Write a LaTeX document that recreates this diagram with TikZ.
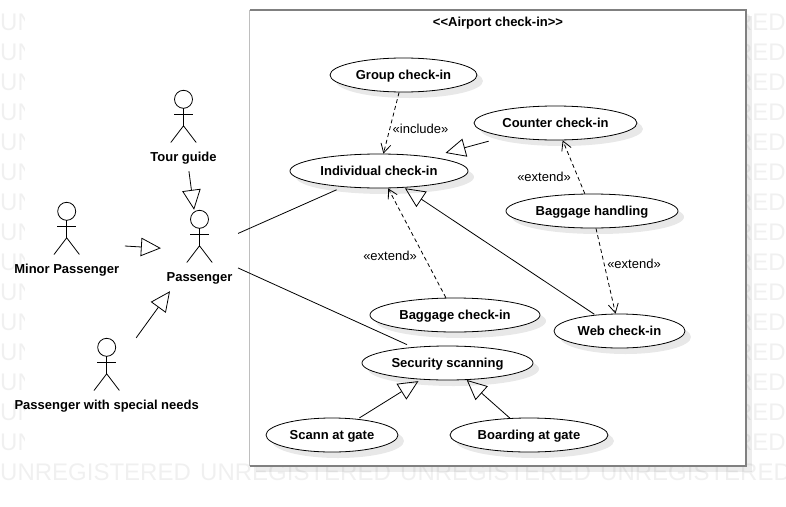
\documentclass[tikz,border=0pt]{standalone}
\usepackage{fontspec}
\setmainfont{Liberation Sans}
\usepackage{tikz}
\usetikzlibrary{arrows.meta,shapes.geometric,shadows}

\definecolor{framegray}{HTML}{808080}
\definecolor{frameleft}{HTML}{BEBEBE}
\definecolor{wmgray}{HTML}{F0F0F0}
\tikzset{
	usecase/.style={draw=black, fill=white, shape=ellipse, inner sep=0pt, line width=0.8pt, minimum height=34pt,
		text height=10pt, text depth=2pt,
		font=\fontsize{13}{15}\selectfont\bfseries,
		drop shadow={shadow xshift=6pt, shadow yshift=-6pt, fill=black, opacity=0.09}},
	actorbox/.style={shape=rectangle, inner xsep=5.5pt, inner ysep=5pt, text height=66pt, text depth=5pt,
		font=\fontsize{13}{15}\selectfont\bfseries},
	stereo/.style={font=\fontsize{13}{15}\selectfont, inner sep=1pt},
	watermark/.style={text=wmgray, inner sep=0pt, font=\fontsize{24}{26}\selectfont},
	general/.style={line width=0.8pt, -{Triangle[open, length=20pt, width=18.5pt]}},
	depend/.style={line width=0.8pt, dash pattern=on 4pt off 3pt, -{Straight Barb[length=9pt, width=10pt]}},
	assoc/.style={line width=0.8pt},
}

\begin{document}
\begin{tikzpicture}[x=1pt, y=-1pt]
	\useasboundingbox (0,0) rectangle (786,506);
	% watermark
	\foreach \y in {22,52,...,442} {
		\node [watermark, anchor=west] (waterl-\y) at (0, \y) {UN};
		\node [watermark, anchor=east] (waterr-\y) at (786, \y) {RED};
	}
	\foreach \x in {0,200,400,600} {
		\node [watermark, anchor=west] (water-\x) at (\x, 472) {UNREGISTERED};
	}
	\fill [white] (25, 0) rectangle (745, 460);

	% system frame
	\node [fill=white, minimum width=496pt, minimum height=456pt, inner sep=0pt,
		drop shadow={shadow xshift=6pt, shadow yshift=-6pt, fill=black, opacity=0.07}] (airport) at (498, 238) {};
	\draw [frameleft, line width=0.8pt] (airport.north west) -- (airport.south west);
	\draw [framegray, line width=2pt] (airport.north west) -- (airport.north east) -- (airport.south east) -- (airport.south west);
	\node [font=\fontsize{13}{15}\selectfont\bfseries, inner sep=0pt] (title) at (498, 23) {<{}<Airport check-in>{}>};

	% use cases
	\node [usecase, minimum width=147pt] (group) at (403.5, 75) {Group check-in};
	\node [usecase, minimum width=163pt] (counter) at (555.5, 123) {Counter check-in};
	\node [usecase, minimum width=178pt] (individual) at (379, 171) {Individual check-in};
	\node [usecase, minimum width=172pt] (handling) at (592, 211) {Baggage handling};
	\node [usecase, minimum width=170pt] (baggage) at (455, 315) {Baggage check-in};
	\node [usecase, minimum width=131pt] (web) at (619.5, 331) {Web check-in};
	\node [usecase, minimum width=171pt] (security) at (447.5, 363) {Security scanning};
	\node [usecase, minimum width=132pt] (scann) at (332, 435) {Scann at gate};
	\node [usecase, minimum width=158pt] (boarding) at (529, 435) {Boarding at gate};

	% actors
	\node [actorbox] (tour) at (183.5, 130.5) {Tour guide};
	\node [actorbox] (passenger) at (199.5, 250.5) {Passenger};
	\node [actorbox] (minor) at (66.7, 242.5) {Minor Passenger};
	\node [actorbox] (special) at (106.7, 378.5) {Passenger with special needs};
	\foreach \a in {tour,passenger,minor,special} {
		\draw [line width=0.8pt] ([yshift=-9.5pt]\a.north) circle [radius=9pt];
		\draw [line width=0.8pt] ([yshift=-18.5pt]\a.north) -- ([yshift=-36pt]\a.north);
		\draw [line width=0.8pt] ([xshift=-9.3pt, yshift=-24.7pt]\a.north) -- ([xshift=9.3pt, yshift=-24.7pt]\a.north);
		\draw [line width=0.8pt] ([xshift=-12.7pt, yshift=-52.7pt]\a.north) -- ([yshift=-36pt]\a.north) -- ([xshift=12.7pt, yshift=-52.7pt]\a.north);
	}

	% connectors
	\draw [general] (tour) to (passenger);
	\draw [general] (minor) to (passenger);
	\draw [general] (special) to (passenger);
	\draw [assoc, shorten >=7pt] (passenger) to (individual);
	\draw [assoc, shorten >=6pt] (passenger) to (security);
	\draw [depend] (group) to (individual);
	\draw [general, shorten <=17pt, shorten >=15pt] (counter) to (individual);
	\draw [depend] (handling) to (counter);
	\draw [depend] (handling) to (web);
	\draw [depend] (baggage) to (individual);
	\draw [general, shorten <=1pt, shorten >=1pt] (web) to (individual);
	\draw [general, shorten <=2pt, shorten >=3pt] (scann) to (security);
	\draw [general] (boarding) to (security);

	% stereotype labels
	\node [stereo] (includelabel) at (420.5, 129) {«include»};
	\node [stereo] (extendtop) at (544, 177) {«extend»};
	\node [stereo] (extendright) at (634, 264) {«extend»};
	\node [stereo] (extendleft) at (390, 256) {«extend»};
\end{tikzpicture}
\end{document}
